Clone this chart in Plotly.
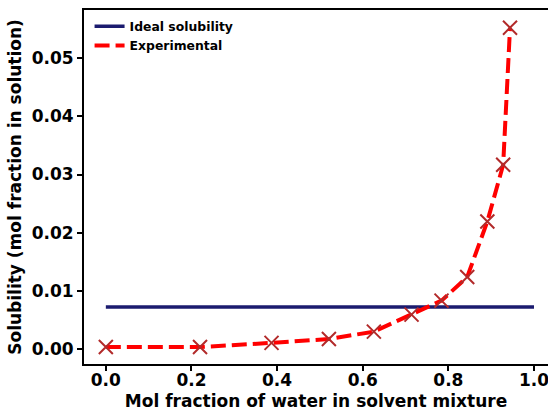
import plotly.graph_objects as go

# Mol fraction of water in the solvent mixture
water_fraction = [0.0, 0.220, 0.387, 0.521, 0.626, 0.714, 0.784, 0.844, 0.891, 0.928, 0.944]
# Measured solubility (mol fraction in solution)
solubility_exp = [0.00032, 0.00032, 0.00103, 0.0017, 0.00297, 0.0059, 0.0083, 0.01237, 0.02192, 0.03167, 0.05526]
# Ideal solubility, constant over the composition range
ideal_x = [0.0, 1.0]
ideal_value = 0.00722

x_ticks = [0.0, 0.2, 0.4, 0.6, 0.8, 1.0]
x_tick_text = ["0.0", "0.2", "0.4", "0.6", "0.8", "1.0"]
y_ticks = [0.00, 0.01, 0.02, 0.03, 0.04, 0.05]
y_tick_text = ["0.00", "0.01", "0.02", "0.03", "0.04", "0.05"]

FONT = "DejaVu Sans"

fig = go.Figure()

fig.add_trace(go.Scatter(
    x=ideal_x, y=[ideal_value] * len(ideal_x),
    mode="lines", name="Ideal solubility",
    line=dict(color="#1b1b6f", width=3.5),
))
fig.add_trace(go.Scatter(
    x=water_fraction, y=solubility_exp,
    mode="lines", name="Experimental",
    line=dict(color="#ff0000", width=4, dash="15px,6px"),
))
fig.add_trace(go.Scatter(
    x=water_fraction, y=solubility_exp,
    mode="markers", showlegend=False,
    marker=dict(symbol="x-thin", size=14, line=dict(color="#b22a2a", width=2)),
))

axis_common = dict(
    showline=True, linecolor="black", linewidth=2,
    ticks="outside", ticklen=5, tickwidth=1.5, tickcolor="black",
    showgrid=False, zeroline=False,
    ticklabeloverflow="allow",
    tickfont=dict(family=FONT, size=17, color="black", weight="bold"),
)

fig.update_layout(
    width=548, height=411,
    margin=dict(l=84, r=0, t=10, b=47),
    paper_bgcolor="white", plot_bgcolor="white",
    font=dict(family=FONT, color="black"),
    xaxis=dict(
        range=[-0.051, 1.0327],
        tickvals=x_ticks, ticktext=x_tick_text,
        mirror=True,
        ticklabelstandoff=-5,
        title=dict(text="Mol fraction of water in solvent mixture",
                   font=dict(family=FONT, size=17, color="black", weight="bold"),
                   standoff=8),
        **axis_common,
    ),
    yaxis=dict(
        range=[-0.0026, 0.0583],
        tickvals=y_ticks, ticktext=y_tick_text,
        mirror=False,
        title=dict(text="Solubility (mol fraction in solution)",
                   font=dict(family=FONT, size=17, color="black", weight="bold"),
                   standoff=6),
        **axis_common,
    ),
    legend=dict(
        x=0.012, y=0.995, xanchor="left", yanchor="top",
        bgcolor="rgba(255,255,255,0)",
        font=dict(family=FONT, size=12.4, color="black", weight="bold"),
        itemwidth=30, tracegroupgap=0,
    ),
    showlegend=True,
)

fig.write_html("out.html")
